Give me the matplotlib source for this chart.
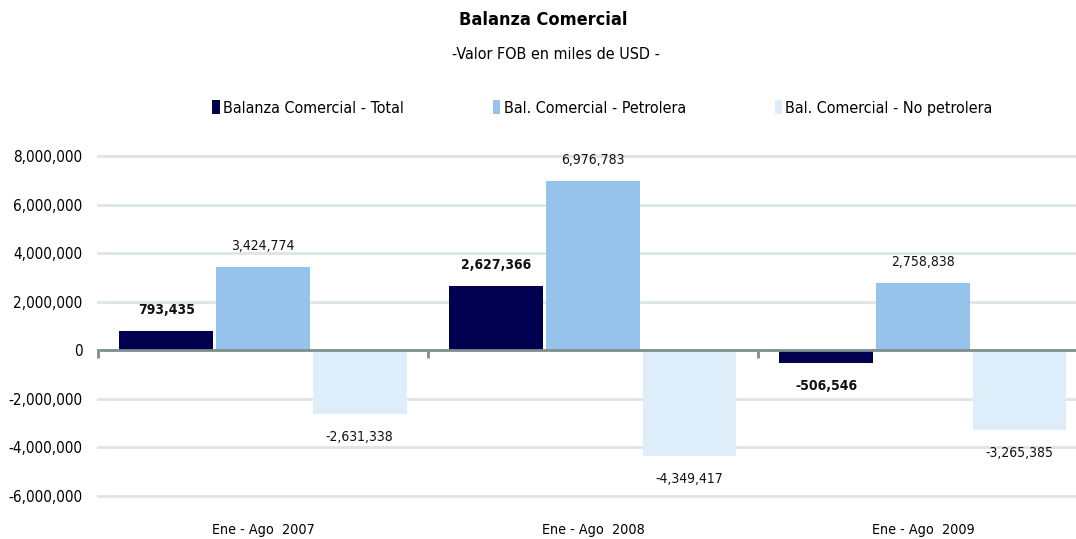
import matplotlib.pyplot as plt
import matplotlib.transforms as mtransforms
import numpy as np

plt.rcParams['font.family'] = ['DejaVu Sans']
plt.rcParams['font.stretch'] = 'condensed'

periodos = ['Ene - Ago  2007', 'Ene - Ago  2008', 'Ene - Ago  2009']
series = ['Balanza Comercial - Total', 'Bal. Comercial - Petrolera', 'Bal. Comercial - No petrolera']
total = [793435, 2627366, -506546]
petrolera = [3424774, 6976783, 2758838]
no_petrolera = [-2631338, -4349417, -3265385]
colores = ['#00004f', '#95c3ec', '#ddeefa']

fig = plt.figure(figsize=(10.76, 5.39), dpi=100)
ax = fig.add_axes([98/1076, 43/539, 978/1076, 340/539])

x = np.arange(len(periodos))
ancho = 0.284
valores = [total, petrolera, no_petrolera]
for i, (vals, nombre, col) in enumerate(zip(valores, series, colores)):
    pos = x + (i - 1) * 0.293
    ax.bar(pos, vals, width=ancho, color=col, label=nombre, zorder=3)
    for xb, v in zip(pos, vals):
        off = 21 if v >= 0 else -23
        ax.annotate(f'{v:,}', (xb, v), xytext=(0, off), textcoords='offset pixels',
                    ha='center', va='center', fontsize=10,
                    fontweight='bold' if i == 0 else 'normal', color='#111111')

ax.set_ylim(-6000000, 8000000)
ax.set_yticks(np.arange(-6000000, 8000001, 2000000))
ax.yaxis.set_major_formatter(plt.FuncFormatter(lambda v, p: f'{int(v):,}'))
ax.tick_params(axis='y', length=0, labelsize=11, pad=11)
ax.grid(axis='y', color='#dde6e4', linewidth=2, zorder=0)
for gl in ax.get_ygridlines():
    gl.set_clip_on(False)

for s in ['top', 'right', 'left']:
    ax.spines[s].set_visible(False)
ax.spines['bottom'].set_position(('data', 0))
ax.spines['bottom'].set_color('#7f9090')
ax.spines['bottom'].set_linewidth(2)
ax.spines['bottom'].set_zorder(4)
ax.set_xticks(np.arange(len(periodos) + 1) - 0.5)
ax.set_xticklabels([])
ax.tick_params(axis='x', length=6, width=2, color='#7f9090', direction='out')
ax.set_xlim(-0.5, 2.464)

trans = mtransforms.blended_transform_factory(ax.transData, ax.transAxes)
for xi, lab in zip(x, periodos):
    ax.text(xi, -0.1, lab, transform=trans, ha='center', va='center', fontsize=10.3)

fig.text(0.505, 0.962, 'Balanza Comercial', ha='center', va='center', fontsize=13, fontweight='bold')
fig.text(0.517, 0.898, '-Valor FOB en miles de USD -', ha='center', va='center', fontsize=11.5)

fig.legend(loc='center', bbox_to_anchor=(0.56, 0.8), ncol=3, frameon=False, fontsize=11.5,
           handlelength=0.45, handleheight=1.0, handletextpad=0.2, columnspacing=5.6)

fig.savefig('out.png', dpi=100)
